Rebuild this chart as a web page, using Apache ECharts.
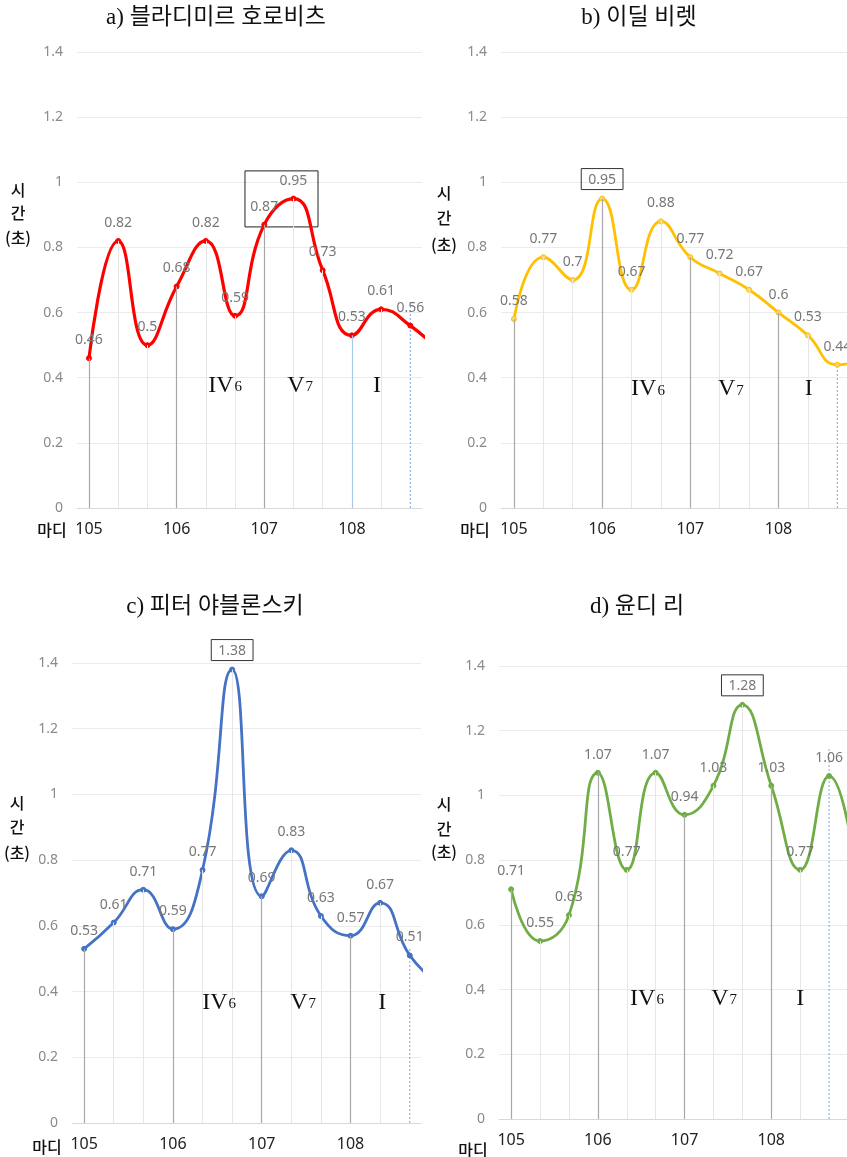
<!DOCTYPE html>
<html>
<head>
<meta charset="utf-8">
<title>마디별 시간</title>
<script src="https://cdn.jsdelivr.net/npm/echarts@6/dist/echarts.min.js"></script>
<style>
  html, body { margin: 0; padding: 0; background: #fff; }
  #chart { width: 847px; height: 1157px; }
</style>
</head>
<body>
<div id="chart"></div>
<script>
// Measure numbers shown under the first beat of each measure (3 beats per measure)
const measures = ['105', '106', '107', '108'];
const beatsPerMeasure = 3;

// Duration of each beat in seconds; the 13th value is the next beat, which falls past the plot edge
const horowitz  = [0.46, 0.82, 0.5, 0.68, 0.82, 0.59, 0.87, 0.95, 0.73, 0.53, 0.61, 0.56, 0.48];
const idilBiret = [0.58, 0.77, 0.7, 0.95, 0.67, 0.88, 0.77, 0.72, 0.67, 0.6, 0.53, 0.44, 0.46];
const jablonski = [0.53, 0.61, 0.71, 0.59, 0.77, 1.38, 0.69, 0.83, 0.63, 0.57, 0.67, 0.51, 0.42];
const yundiLi   = [0.71, 0.55, 0.63, 1.07, 0.77, 1.07, 0.94, 1.03, 1.28, 1.03, 0.77, 1.06, 0.72];

// Harmony of each section
const chordNames = ['IV', 'V', 'I'];
const chordFigures = ['6', '7', ''];

// Y axis range (seconds)
const yMin = 0, yMax = 1.4, yStep = 0.2;

const visibleBeats = 12;

const panels = [
  {
    title: 'a) 블라디미르 호로비츠', values: horowitz, color: '#ff0000', symbolColor: '#ff0000',
    grid: { left: 77, top: 52, width: 345, height: 456 }, xMin: -0.41, xMax: 11.4,
    titlePos: [216, 18], unitPos: [18, [190, 213, 238]], barPos: [52, 530],
    chordAt: [[4.66, 0.378], [7.23, 0.378], [9.86, 0.378]],
    dropAccent: { 9: '#a9c8ea' }, cursorTop: 0.62,
    boxArea: [[5.34, 0.863], [7.84, 1.035]], boxed: -1, lineWidth: 3.2
  },
  {
    title: 'b) 이딜 비렛', values: idilBiret, color: '#ffc000', symbolColor: '#f8d77f',
    grid: { left: 501, top: 52, width: 346, height: 456 }, xMin: -0.44, xMax: 11.33,
    titlePos: [639, 18], unitPos: [444, [193, 218, 245]], barPos: [475, 530],
    chordAt: [[4.56, 0.368], [7.38, 0.368], [10.03, 0.368]],
    dropAccent: {}, cursorTop: 0.44, boxArea: null, boxed: 3, lineWidth: 2.8
  },
  {
    title: 'c) 피터 야블론스키', values: jablonski, color: '#4472c4', symbolColor: '#4472c4',
    grid: { left: 72, top: 663, width: 349, height: 460 }, xMin: -0.41, xMax: 11.38,
    titlePos: [215, 607], unitPos: [17, [803, 827, 853]], barPos: [47, 1147],
    chordAt: [[4.56, 0.37], [7.4, 0.37], [10.07, 0.37]],
    dropAccent: {}, cursorTop: 0.53, boxArea: null, boxed: 5, lineWidth: 2.8
  },
  {
    title: 'd) 윤디 리', values: yundiLi, color: '#70ad47', symbolColor: '#70ad47',
    grid: { left: 499, top: 666, width: 348, height: 453 }, xMin: -0.42, xMax: 11.62,
    titlePos: [637, 607], unitPos: [444, [804, 829, 852]], barPos: [473, 1150],
    chordAt: [[4.7, 0.374], [7.37, 0.374], [10.0, 0.374]],
    dropAccent: {}, cursorTop: 1.15, boxArea: null, boxed: 8, lineWidth: 2.8
  }
];

const numFont = "'Noto Sans', 'Open Sans', sans-serif";
const korFont = "'Noto Sans CJK KR', sans-serif";
const serifFont = "'Liberation Serif', 'DejaVu Serif', serif";
const titleFont = "'Liberation Serif', 'Noto Sans CJK KR', serif";
const cursorStyle = { color: '#7aa7de', width: 1, type: [2, 2], opacity: 1 };

const grids = [], xAxes = [], yAxes = [], series = [], graphics = [];

panels.forEach((p, k) => {
  grids.push(Object.assign({ containLabel: false }, p.grid));

  xAxes.push({
    type: 'value', gridIndex: k, min: p.xMin, max: p.xMax,
    splitLine: { show: false },
    axisTick: { show: false },
    axisLine: { show: true, lineStyle: { color: '#d9d9d9', width: 1 } },
    axisLabel: {
      customValues: measures.map((m, i) => i * beatsPerMeasure),
      formatter: v => measures[Math.round(v / beatsPerMeasure)],
      color: '#222', fontSize: 16, fontFamily: numFont, margin: 13
    }
  });

  yAxes.push({
    type: 'value', gridIndex: k, min: yMin, max: yMax, interval: yStep,
    axisLine: { show: false }, axisTick: { show: false },
    splitLine: { lineStyle: { color: '#ebebeb', width: 1 } },
    axisLabel: {
      color: '#8a8a8a', fontSize: 14, fontFamily: numFont, margin: 14,
      formatter: v => String(+v.toFixed(1))
    }
  });

  // Drop lines from each beat down to the time axis (the last beat is marked by a dotted cursor)
  const drops = p.values.slice(0, visibleBeats - 1).map((v, i) => {
    let style;
    if (p.dropAccent[i]) {
      style = { color: p.dropAccent[i], width: 1.2, type: 'solid' };
    } else if (i % beatsPerMeasure === 0) {
      style = { color: '#a8a8a8', width: 1.2, type: 'solid' };
    } else {
      style = { color: '#e6e6e6', width: 1, type: 'solid' };
    }
    return [{ coord: [i, 0], lineStyle: style }, { coord: [i, v] }];
  });

  // Chord symbols written inside each measure
  const chords = p.chordAt.map((c, i) => ({
    coord: c,
    value: chordNames[i],
    label: { formatter: '{n|' + chordNames[i] + '}' + (chordFigures[i] ? '{s|' + chordFigures[i] + '}' : '') }
  }));

  const helper = {
    type: 'line', xAxisIndex: k, yAxisIndex: k, z: 1, silent: true,
    data: p.values.slice(0, visibleBeats).map((v, i) => [i, v]),
    lineStyle: { opacity: 0 }, itemStyle: { color: '#7aa7de' }, showSymbol: false, animation: false,
    markLine: {
      silent: true, symbol: ['none', 'none'], animation: false,
      label: { show: false }, emphasis: { disabled: true },
      data: drops
    },
    markPoint: {
      silent: true, symbol: 'rect', symbolSize: 1, animation: false,
      itemStyle: { color: 'rgba(0,0,0,0)' },
      label: {
        show: true, position: 'inside',
        rich: {
          n: { fontFamily: serifFont, fontSize: 24, color: '#111', lineHeight: 26, verticalAlign: 'bottom' },
          s: { fontFamily: serifFont, fontSize: 15, color: '#111', lineHeight: 26, verticalAlign: 'bottom', padding: [0, 0, 3, 1] }
        }
      },
      data: chords
    }
  };
  if (p.boxArea) {
    helper.markArea = {
      silent: true, animation: false,
      itemStyle: { color: 'rgba(0,0,0,0)', borderColor: '#222', borderWidth: 1 },
      data: [[{ coord: p.boxArea[0] }, { coord: p.boxArea[1] }]]
    };
  }
  series.push(helper);

  // Dotted cursor at the last visible beat
  const last = visibleBeats - 1;
  series.push({
    type: 'line', xAxisIndex: k, yAxisIndex: k, z: 2, silent: true, animation: false,
    data: [[last, 0], [last, p.cursorTop]],
    showSymbol: false, lineStyle: cursorStyle, itemStyle: { color: cursorStyle.color },
    label: { show: false }
  });

  series.push({
    type: 'line', xAxisIndex: k, yAxisIndex: k, z: 3,
    smooth: 0.5, clip: true, animation: false,
    symbol: 'circle', symbolSize: 5,
    lineStyle: { color: p.color, width: p.lineWidth },
    itemStyle: { color: p.symbolColor, borderColor: p.color, borderWidth: 1 },
    label: {
      show: true, position: 'top', distance: 8,
      color: '#777', fontSize: 14, fontFamily: numFont
    },
    data: p.values.map((v, i) => {
      const item = { value: [i, v] };
      if (i >= visibleBeats) {
        item.symbol = 'none';
        item.label = { show: false };
      } else if (i === p.boxed) {
        item.label = {
          show: true, position: 'top', distance: 6,
          borderColor: '#333', borderWidth: 1, padding: [4, 7, 3, 7]
        };
      }
      return item;
    })
  });

  // Panel title
  graphics.push({
    type: 'text', x: p.titlePos[0], y: p.titlePos[1],
    style: {
      text: p.title, fill: '#111', fontSize: 23, fontFamily: titleFont,
      align: 'center', verticalAlign: 'middle'
    }
  });
  // Vertical unit label: 시간 (초)
  ['시', '간', '(초)'].forEach((t, i) => {
    graphics.push({
      type: 'text', x: p.unitPos[0], y: p.unitPos[1][i],
      style: { text: t, fill: '#111', fontSize: 16, fontWeight: 500, fontFamily: korFont, align: 'center', verticalAlign: 'middle' }
    });
  });
  // Horizontal unit label: 마디
  graphics.push({
    type: 'text', x: p.barPos[0], y: p.barPos[1],
    style: { text: '마디', fill: '#111', fontSize: 16, fontWeight: 500, fontFamily: korFont, align: 'center', verticalAlign: 'middle' }
  });
});

const chart = echarts.init(document.getElementById('chart'), null, { renderer: 'canvas' });
chart.setOption({
  backgroundColor: '#fff',
  animation: false,
  grid: grids,
  xAxis: xAxes,
  yAxis: yAxes,
  series: series,
  graphic: { elements: graphics }
});
</script>
</body>
</html>
